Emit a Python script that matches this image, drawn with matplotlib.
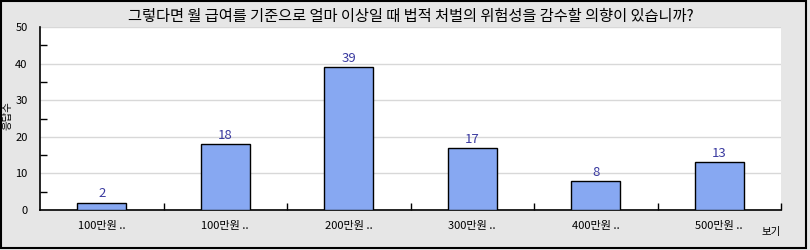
import matplotlib.pyplot as plt
from matplotlib.patches import Rectangle
import numpy as np

plt.rcParams['font.family'] = ['Noto Sans CJK KR', 'DejaVu Sans']

title = "그렇다면 월 급여를 기준으로 얼마 이상일 때 법적 처벌의 위험성을 감수할 의향이 있습니까?"
categories = ["100만원 ..", "100만원 ..", "200만원 ..", "300만원 ..", "400만원 ..", "500만원 .."]
counts = [2, 18, 39, 17, 8, 13]

fig = plt.figure(figsize=(8.1, 2.5), dpi=100)
fig.patch.set_facecolor("#e6e6e6")
# outer frame
fig.patches.append(Rectangle((0.001, 0.008), 0.994, 0.99, transform=fig.transFigure,
                             fill=False, edgecolor="black", linewidth=1.5))

ax = fig.add_axes([40/810, 40/250, 741/810, 183/250])
ax.set_facecolor("white")

x = np.arange(len(categories))
bars = ax.bar(x, counts, width=0.4, color="#87a8f2", edgecolor="black", linewidth=1, zorder=3)
for b, v in zip(bars, counts):
    ax.text(b.get_x() + b.get_width()/2, v + 0.6, str(v), ha="center", va="bottom",
            fontsize=9.5, color="#3a3aa0", zorder=4)

ax.set_xlim(-0.5, len(categories) - 0.5)
ax.set_ylim(0, 50)
ax.set_yticks(range(0, 51, 10))
ax.set_yticks(range(5, 50, 10), minor=True)
ax.yaxis.grid(True, color="#d8d8d8", linewidth=1, zorder=0)
ax.tick_params(axis="y", which="major", length=0, pad=9, labelsize=8)
ax.tick_params(axis="y", which="minor", direction="in", length=5, width=1)

ax.set_xticks(x)
ax.set_xticklabels(categories, fontsize=8)
ax.set_xticks(np.arange(0.5, len(categories), 1), minor=True)
ax.tick_params(axis="x", which="major", length=0, pad=8)
ax.tick_params(axis="x", which="minor", direction="in", length=5, width=1)

for s in ["top", "right"]:
    ax.spines[s].set_visible(False)
for s in ["left", "bottom"]:
    ax.spines[s].set_linewidth(1.2)

ax.set_title(title, fontsize=11, pad=4)
fig.text(8/810, 1 - 116/250, "응답수", fontsize=7.5, rotation=90, ha="center", va="center")
fig.text(771/810, 1 - 232/250, "보기", fontsize=7.5, ha="center", va="center")

fig.savefig("out.png", dpi=100, facecolor=fig.get_facecolor())
